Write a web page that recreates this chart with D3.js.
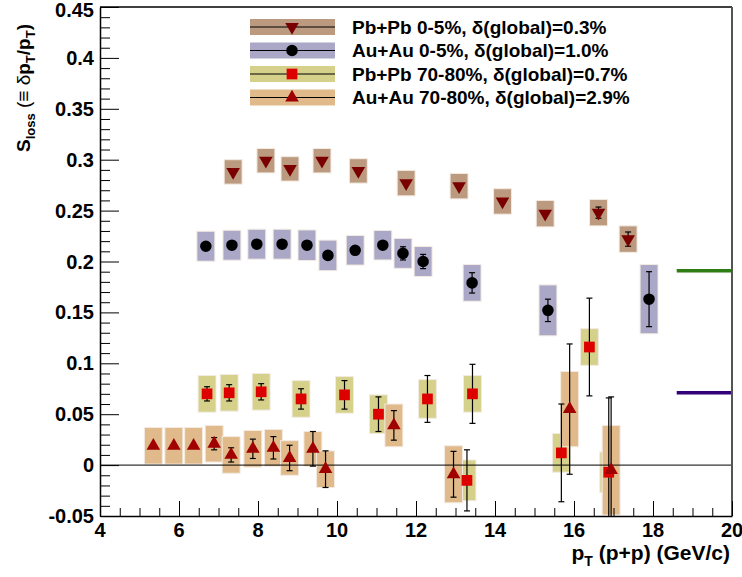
<!DOCTYPE html>
<html>
<head>
<meta charset="UTF-8">
<title>Sloss</title>
<style>
  body { margin: 0; background: #fff; }
  text { font-family: "Liberation Sans", Arial, sans-serif; }
</style>
</head>
<body>
<script src="https://d3js.org/d3.v7.min.js"></script>
<script>
// Pb+Pb 0-5%
const pbCentX    = [7.37, 8.20, 8.81, 9.62, 10.54, 11.75, 13.09, 14.19, 15.27, 16.62, 17.37];
const pbCentY    = [0.288, 0.299, 0.291, 0.299, 0.289, 0.277, 0.274, 0.259, 0.247, 0.248, 0.222];
const pbCentStat = [0.003, 0.003, 0.003, 0.003, 0.003, 0.003, 0.003, 0.003, 0.004, 0.0055, 0.007];
const pbCentSys  = [0.012, 0.012, 0.012, 0.012, 0.012, 0.0125, 0.0125, 0.0125, 0.013, 0.013, 0.013];

// Au+Au 0-5%
const auCentX    = [6.68, 7.34, 7.97, 8.61, 9.24, 9.77, 10.46, 11.16, 11.67, 12.18, 13.42, 15.34, 17.90];
const auCentY    = [0.215, 0.216, 0.217, 0.217, 0.216, 0.206, 0.211, 0.216, 0.208, 0.200, 0.179, 0.152, 0.163];
const auCentStat = [0.004, 0.004, 0.004, 0.004, 0.004, 0.004, 0.004, 0.004, 0.0065, 0.007, 0.010, 0.011, 0.027];
const auCentSys  = [0.0147, 0.0147, 0.0147, 0.0147, 0.015, 0.015, 0.0145, 0.0145, 0.0147, 0.0147, 0.018, 0.025, 0.034];

// Pb+Pb 70-80%
const pbPeriX    = [6.71, 7.27, 8.08, 9.09, 10.19, 11.05, 12.29, 13.29, 13.43, 15.68, 16.39, 16.88];
const pbPeriY    = [0.070, 0.071, 0.072, 0.065, 0.069, 0.050, 0.065, -0.015, 0.070, 0.012, 0.116, -0.007];
const pbPeriStat = [0.007, 0.008, 0.008, 0.010, 0.014, 0.017, 0.023, 0.030, 0.029, 0.048, 0.048, 0.073];
const pbPeriSys  = [0.018, 0.018, 0.018, 0.018, 0.018, 0.019, 0.019, 0.020, 0.018, 0.019, 0.018, 0.020];

// Au+Au 70-80%
const auPeriX    = [5.35, 5.87, 6.37, 6.89, 7.32, 7.87, 8.39, 8.80, 9.39, 9.71, 11.44, 12.95, 15.89, 16.94];
const auPeriY    = [0.019, 0.019, 0.019, 0.021, 0.010, 0.016, 0.017, 0.007, 0.016, -0.004, 0.039, -0.009, 0.055, -0.005];
const auPeriStat = [0.003, 0.003, 0.003, 0.006, 0.007, 0.0095, 0.011, 0.0125, 0.017, 0.018, 0.0145, 0.0225, 0.064, 0.072];
const auPeriSys  = [0.018, 0.018, 0.018, 0.018, 0.018, 0.018, 0.018, 0.017, 0.017, 0.018, 0.021, 0.028, 0.037, 0.044];

// global reference lines at the right edge
const refLevels = [0.191, 0.071];
const refColors = ["#2e7d12", "#330077"];

const legendLabels = [
  "Pb+Pb 0-5%, \u03b4(global)=0.3%",
  "Au+Au 0-5%, \u03b4(global)=1.0%",
  "Pb+Pb 70-80%, \u03b4(global)=0.7%",
  "Au+Au 70-80%, \u03b4(global)=2.9%"
];
const xTicks = [4, 6, 8, 10, 12, 14, 16, 18, 20];
const yTicks = [-0.05, 0, 0.05, 0.1, 0.15, 0.2, 0.25, 0.3, 0.35, 0.4, 0.45];

let width = 742, height = 577;
let margin = { top: 7, right: 10, bottom: 61, left: 100 };

let svg = d3.select('body').append('svg')
  .attr('width', width).attr('height', height);

let x = d3.scaleLinear().domain([4, 20]).range([margin.left, width - margin.right]);
let y = d3.scaleLinear().domain([-0.05, 0.45]).range([height - margin.bottom, margin.top]);

let series = [
  { xs: pbCentX, ys: pbCentY, stat: pbCentStat, sys: pbCentSys, box: "#bc9a7f", col: "#7a0000", sym: "down", size: 80 },
  { xs: auCentX, ys: auCentY, stat: auCentStat, sys: auCentSys, box: "#aaa7c7", col: "#000000", sym: "circle", size: 105 },
  { xs: pbPeriX, ys: pbPeriY, stat: pbPeriStat, sys: pbPeriSys, box: "#d5d18b", col: "#dd0000", sym: "square", size: 115 },
  { xs: auPeriX, ys: auPeriY, stat: auPeriStat, sys: auPeriSys, box: "#e0ba8a", col: "#a00000", sym: "up", size: 80 }
];

function symPath(s, size) {
  let t = s === "circle" ? d3.symbolCircle : s === "square" ? d3.symbolSquare : d3.symbolTriangle;
  return d3.symbol().type(t).size(size)();
}
function symTransform(s, px, py) {
  return s === "down" ? `translate(${px},${py}) rotate(180)` : `translate(${px},${py})`;
}

svg.append('defs').append('clipPath').attr('id', 'plot')
  .append('rect')
  .attr('x', margin.left).attr('y', margin.top)
  .attr('width', width - margin.left - margin.right)
  .attr('height', height - margin.top - margin.bottom);

let plot = svg.append('g').attr('clip-path', 'url(#plot)');
const boxHalf = 0.227;

// systematic boxes
series.forEach(function (s) {
  plot.append('g').selectAll('rect')
    .data(d3.range(s.xs.length))
    .enter().append('rect')
    .attr('x', i => x(s.xs[i] - boxHalf))
    .attr('width', i => x(s.xs[i] + boxHalf) - x(s.xs[i] - boxHalf))
    .attr('y', i => y(s.ys[i] + s.sys[i]))
    .attr('height', i => y(s.ys[i] - s.sys[i]) - y(s.ys[i] + s.sys[i]))
    .attr('fill', s.box)
    .attr('stroke', '#f3ebe2')
    .attr('stroke-width', 1);
});

// zero line
plot.append('line')
  .attr('x1', x(4)).attr('x2', x(20))
  .attr('y1', y(0)).attr('y2', y(0))
  .attr('stroke', '#000').attr('stroke-width', 1);

// stat error bars
series.forEach(function (s) {
  let g = plot.append('g').attr('stroke', '#000').attr('stroke-width', 1.2);
  d3.range(s.xs.length).forEach(function (i) {
    let px = x(s.xs[i]);
    let y1 = y(s.ys[i] + s.stat[i]), y2 = y(s.ys[i] - s.stat[i]);
    if (y2 - y1 < 11) return;
    g.append('line').attr('x1', px).attr('x2', px).attr('y1', y1).attr('y2', y2);
    g.append('line').attr('x1', px - 3).attr('x2', px + 3).attr('y1', y1).attr('y2', y1);
    g.append('line').attr('x1', px - 3).attr('x2', px + 3).attr('y1', y2).attr('y2', y2);
  });
});

// markers
series.forEach(function (s) {
  plot.append('g').selectAll('path')
    .data(d3.range(s.xs.length))
    .enter().append('path')
    .attr('d', symPath(s.sym, s.size))
    .attr('transform', i => symTransform(s.sym, x(s.xs[i]), y(s.ys[i])))
    .attr('fill', s.col);
});

// right-edge reference lines
svg.selectAll('.ref')
  .data(refLevels)
  .enter().append('line')
  .attr('x1', x(18.6)).attr('x2', x(20))
  .attr('y1', d => y(d)).attr('y2', d => y(d))
  .attr('stroke', (d, i) => refColors[i])
  .attr('stroke-width', 3.5);

// frame
svg.append('line').attr('x1', x(4)).attr('x2', x(20)).attr('y1', y(0.45)).attr('y2', y(0.45))
  .attr('stroke', '#000').attr('stroke-width', 1.5);
svg.append('line').attr('x1', x(20)).attr('x2', x(20)).attr('y1', y(0.45)).attr('y2', y(-0.05))
  .attr('stroke', '#555').attr('stroke-width', 2);

// axes
let xAxis = d3.axisBottom(x).tickValues(d3.range(4, 20.01, 0.5)).tickSize(0).tickFormat('');
let gx = svg.append('g').attr('transform', `translate(0,${y(-0.05)})`);
gx.call(xAxis);
gx.select('.domain').attr('stroke', '#000').attr('stroke-width', 1.5);
gx.selectAll('.tick line')
  .attr('y2', d => (Math.abs(d - Math.round(d / 2) * 2) < 1e-6 ? -15 : -8))
  .attr('stroke', '#000');
gx.selectAll('.lbl')
  .data(xTicks).enter().append('text')
  .attr('x', d => x(d)).attr('y', 21)
  .attr('text-anchor', 'middle')
  .attr('fill', '#000')
  .attr('font-size', '20px').attr('font-weight', 'bold')
  .text(d => d);

let yAxis = d3.axisLeft(y).tickValues(d3.range(-50, 451, 10).map(v => v / 1000)).tickSize(0).tickFormat('');
let gy = svg.append('g').attr('transform', `translate(${x(4)},0)`);
gy.call(yAxis);
gy.select('.domain').attr('stroke', '#000').attr('stroke-width', 1.5);
gy.selectAll('.tick line')
  .attr('x2', d => (Math.round(d * 1000) % 50 === 0 ? 19 : 10))
  .attr('stroke', '#000');
gy.selectAll('.lbl')
  .data(yTicks).enter().append('text')
  .attr('x', -6).attr('y', d => Math.max(y(d) + 7, 17))
  .attr('text-anchor', 'end')
  .attr('fill', '#000')
  .attr('font-size', '20px').attr('font-weight', 'bold')
  .text(d => d);

// axis titles
let xt = svg.append('text')
  .attr('x', 730).attr('y', 560)
  .attr('text-anchor', 'end')
  .attr('font-size', '21px').attr('font-weight', 'bold');
xt.append('tspan').text('p');
xt.append('tspan').attr('dy', 6).attr('font-size', '14px').text('T');
xt.append('tspan').attr('dy', -6).text(' (p+p) (GeV/c)');

let yt = svg.append('text')
  .attr('transform', 'translate(30,152) rotate(-90)')
  .attr('font-size', '19px').attr('font-weight', 'bold');
yt.append('tspan').text('S');
yt.append('tspan').attr('dy', 5).attr('font-size', '13px').text('loss');
yt.append('tspan').attr('dy', -5).attr('font-weight', 'normal').text(' (\u2261 \u03b4');
yt.append('tspan').text('p');
yt.append('tspan').attr('dy', 5).attr('font-size', '13px').text('T');
yt.append('tspan').attr('dy', -5).text('/p');
yt.append('tspan').attr('dy', 5).attr('font-size', '13px').text('T');
yt.append('tspan').attr('dy', -5).text(')');

// legend
let legY = [27, 50.5, 74, 97.5];
let leg = svg.append('g');
series.forEach(function (s, i) {
  let cy = legY[i];
  leg.append('rect').attr('x', 250).attr('y', cy - 8).attr('width', 85).attr('height', 16)
    .attr('fill', s.box);
  leg.append('line').attr('x1', 250).attr('x2', 335).attr('y1', cy).attr('y2', cy)
    .attr('stroke', '#000').attr('stroke-width', 1.2);
  leg.append('path').attr('d', symPath(s.sym, s.size))
    .attr('transform', symTransform(s.sym, 292, cy))
    .attr('fill', s.col);
  leg.append('text').attr('x', 352).attr('y', cy + 6.5)
    .attr('font-size', '19px').attr('font-weight', 'bold')
    .text(legendLabels[i]);
});
</script>
</body>
</html>
